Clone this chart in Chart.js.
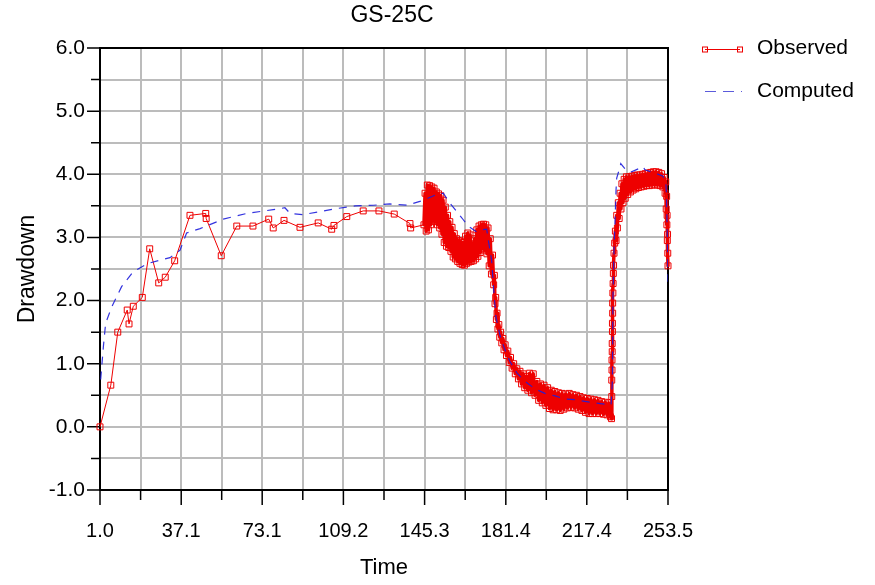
<!DOCTYPE html>
<html>
<head>
<meta charset="utf-8">
<title>GS-25C</title>
<script src="https://cdn.jsdelivr.net/npm/chart.js@4.4.1/dist/chart.umd.min.js"></script>
<style>
    html, body { margin: 0; padding: 0; background: #fff; overflow: hidden; }
</style>
</head>
<body>
<canvas id="chart" width="875" height="585"></canvas>
<script>
const FONT = '"Liberation Sans", Arial, sans-serif';
const GRID = '#bcbcbc';
const RED = '#ee0000';

const chartTitle = 'GS-25C';
const seriesNames = ['Observed', 'Computed'];

// axes
const xMajorTicks = [1.0, 37.1, 73.1, 109.2, 145.3, 181.4, 217.4, 253.5];
const xTickLabels = ['1.0', '37.1', '73.1', '109.2', '145.3', '181.4', '217.4', '253.5'];
const yMajorTicks = [-1, 0, 1, 2, 3, 4, 5, 6];
const yTickLabels = ['-1.0', '0.0', '1.0', '2.0', '3.0', '4.0', '5.0', '6.0'];

// observed drawdown [time, drawdown]
const observed = [
    [1.0, 0.00], [5.8, 0.66], [8.9, 1.50], [13.1, 1.85], [13.9, 1.63], [15.8, 1.91],
    [19.8, 2.05], [23.1, 2.82], [27.1, 2.28], [30.0, 2.37], [34.2, 2.63], [41.0, 3.35],
    [48.0, 3.38], [48.2, 3.30], [54.9, 2.71], [61.8, 3.18], [69.0, 3.18], [76.0, 3.29],
    [78.0, 3.15], [82.8, 3.27], [89.9, 3.16], [98.0, 3.23], [104.0, 3.13], [105.0, 3.19],
    [110.7, 3.33], [118.0, 3.42], [125.0, 3.42], [131.8, 3.37], [138.8, 3.22], [139.1, 3.15],
    // dense logger record
    [145.0, 3.20], [145.5, 3.70], [146.0, 3.10], [146.5, 3.83], [147.0, 3.12], [147.5, 3.82],
    [148.0, 3.20], [148.5, 3.80], [149.0, 3.26], [149.5, 3.78], [150.0, 3.25], [150.5, 3.72],
    [151.0, 3.20], [151.5, 3.69], [152.0, 3.15], [152.5, 3.66], [153.0, 3.05], [153.5, 3.59],
    [154.0, 2.92], [154.5, 3.48], [155.0, 2.86], [155.5, 3.35], [156.0, 2.84], [156.5, 3.25],
    [157.0, 2.78], [157.5, 3.16], [158.0, 2.69], [158.5, 3.06], [159.0, 2.66], [159.5, 2.98],
    [160.0, 2.62], [160.5, 2.95], [161.0, 2.59], [161.5, 2.93], [162.0, 2.57], [162.5, 2.92],
    [163.0, 2.56], [163.5, 3.02], [164.0, 2.59], [164.5, 3.07], [165.0, 2.61], [165.5, 3.04],
    [166.0, 2.62], [166.5, 2.90], [167.0, 2.63], [167.5, 2.98], [168.0, 2.66], [168.5, 3.12],
    [169.0, 2.70], [169.5, 3.18], [170.0, 2.76], [170.5, 3.20], [171.0, 2.82], [171.5, 3.21],
    [172.0, 2.80], [172.5, 3.20], [173.0, 2.74], [173.5, 3.15], [174.0, 2.55], [174.5, 2.98],
    [175.0, 2.42], [175.5, 2.72],
    [176.0, 2.25], [176.3, 2.40], [176.6, 1.95], [176.9, 2.05], [177.2, 1.70], [177.5, 1.80],
    [177.9, 1.55], [178.3, 1.62], [178.7, 1.42], [179.1, 1.50], [179.6, 1.33], [180.1, 1.40],
    [180.6, 1.22], [181.1, 1.30], [181.7, 1.13], [182.3, 1.20], [182.9, 1.02], [183.5, 1.10],
    [184.2, 0.93], [184.9, 1.00], [185.6, 0.84], [186.3, 0.92], [187.0, 0.76], [187.7, 0.88],
    [188.4, 0.68], [189.1, 0.84], [189.8, 0.62], [190.5, 0.80],
    [191.2, 0.58], [192.0, 0.85], [192.8, 0.54], [193.6, 0.84], [194.4, 0.50], [195.2, 0.72],
    [196.0, 0.42], [196.8, 0.68], [197.6, 0.38], [198.4, 0.66], [199.2, 0.34], [200.0, 0.62],
    [200.8, 0.29], [201.6, 0.58], [202.4, 0.27], [203.2, 0.56], [204.0, 0.27], [204.8, 0.54],
    [205.6, 0.26], [206.4, 0.53], [207.2, 0.28], [208.0, 0.52], [208.8, 0.30], [209.6, 0.53],
    [210.4, 0.31], [211.2, 0.51], [212.0, 0.30], [212.8, 0.50], [213.6, 0.28], [214.4, 0.48],
    [215.2, 0.26], [216.0, 0.46], [216.8, 0.23], [217.6, 0.45], [218.4, 0.21], [219.2, 0.44],
    [220.0, 0.21], [220.8, 0.43], [221.6, 0.21], [222.4, 0.42], [223.2, 0.21], [224.0, 0.40],
    [224.8, 0.20], [225.6, 0.39], [226.4, 0.19], [227.2, 0.38], [227.9, 0.16], [228.4, 0.13],
    // recovery
    [228.5, 0.48], [228.5, 0.74], [228.6, 0.90], [228.6, 1.06], [228.7, 1.19], [228.7, 1.32],
    [228.8, 1.51], [228.8, 1.64], [228.9, 1.80], [228.9, 1.96], [229.0, 2.12], [229.1, 2.27],
    [229.2, 2.43], [229.3, 2.56], [229.5, 2.75], [229.8, 2.91],
    [230.1, 3.10], [230.4, 2.95], [230.7, 3.35], [231.0, 3.15], [231.4, 3.55], [231.8, 3.30],
    [232.2, 3.70], [232.6, 3.45], [233.0, 3.85], [233.5, 3.55], [234.0, 3.92], [234.5, 3.62],
    [235.0, 3.96], [235.6, 3.68], [236.2, 3.96], [236.8, 3.72], [237.4, 3.97], [238.0, 3.75],
    [238.6, 3.98], [239.2, 3.77], [239.8, 3.99], [240.4, 3.79], [241.0, 3.99], [241.6, 3.80],
    [242.2, 4.00], [242.8, 3.81], [243.4, 4.01], [244.0, 3.82], [244.6, 4.02], [245.2, 3.82],
    [245.8, 4.03], [246.4, 3.83], [247.0, 4.04], [247.6, 3.83], [248.2, 4.04], [248.8, 3.83],
    [249.4, 4.03], [250.0, 3.82], [250.6, 4.01], [251.2, 3.80], [251.8, 3.95], [252.2, 3.70],
    [252.5, 3.88], [252.7, 3.45], [252.9, 3.65], [253.0, 3.20], [253.1, 3.35], [253.2, 2.95],
    [253.3, 3.05], [253.4, 2.75], [253.5, 2.55]
];

// computed drawdown [time, drawdown]
const computed = [
    [1.3, 0.75], [2.5, 1.27], [3.5, 1.64], [6.2, 1.90], [10.6, 2.22], [15.8, 2.46],
    [22.5, 2.59], [32.1, 2.68], [36.6, 2.80], [39.5, 3.07], [45.5, 3.14], [55.8, 3.29],
    [66.2, 3.38], [78.0, 3.44], [83.2, 3.47], [85.5, 3.38], [91.2, 3.36], [98.8, 3.41],
    [106.8, 3.46], [114.4, 3.50], [122.5, 3.51], [129.9, 3.53], [137.3, 3.51], [143.2, 3.57],
    [146.8, 3.62], [150.6, 3.68], [153.6, 3.70], [156.6, 3.54], [159.6, 3.41], [162.5, 3.28],
    [164.7, 3.18], [168.4, 3.09], [170.6, 3.12], [172.9, 3.13], [173.6, 2.96], [175.1, 2.64],
    [175.8, 2.27], [177.0, 1.74], [178.8, 1.45], [181.0, 1.22], [183.3, 1.03], [186.4, 0.85],
    [189.9, 0.72], [194.4, 0.60], [198.8, 0.53], [203.3, 0.49], [207.7, 0.44], [212.2, 0.43],
    [218.8, 0.39], [225.5, 0.36], [228.2, 0.35], [228.8, 0.74], [229.0, 2.00], [229.5, 2.80],
    [229.9, 3.20], [230.4, 3.75], [230.7, 3.94], [232.2, 4.12], [232.5, 4.17], [235.0, 4.06],
    [237.3, 4.04], [242.5, 4.12], [243.2, 4.07], [247.7, 4.02], [251.3, 3.97], [252.6, 3.83],
    [252.8, 3.70], [253.2, 3.00], [253.5, 2.30]
];

// début de l'enregistrement continu (trait plus épais)
const denseFrom = 145.0;

function withMidpoints(major) {
    const out = [];
    major.forEach((v, i) => {
        out.push(v);
        if (i < major.length - 1) out.push((v + major[i + 1]) / 2);
    });
    return out;
}

function toPoints(rows) {
    return rows.map(r => ({ x: r[0], y: r[1] }));
}

/**
 * Cadre noir + petites graduations hors de la zone de tracé
 */
const framePlugin = {
    id: 'frame',
    beforeDatasetsDraw(chart) {
        const { ctx, chartArea: a, scales: { x, y } } = chart;
        ctx.save();
        ctx.strokeStyle = '#000';
        ctx.lineWidth = 1.5;
        ctx.beginPath();
        x.ticks.forEach(t => {
            const px = x.getPixelForValue(t.value);
            const len = xMajorTicks.includes(t.value) ? 15 : 10;
            ctx.moveTo(px, a.bottom);
            ctx.lineTo(px, a.bottom + len);
        });
        y.ticks.forEach(t => {
            const py = y.getPixelForValue(t.value);
            const len = yMajorTicks.includes(t.value) ? 13 : 9;
            ctx.moveTo(a.left - len, py);
            ctx.lineTo(a.left, py);
        });
        ctx.stroke();
        ctx.lineWidth = 2;
        ctx.strokeRect(a.left, a.top, a.right - a.left, a.bottom - a.top);
        ctx.restore();
    }
};

/**
 * Titre et légende à droite
 */
const titleKeyPlugin = {
    id: 'titleKey',
    afterDraw(chart) {
        const ctx = chart.ctx;
        ctx.save();
        ctx.fillStyle = '#000';
        ctx.textBaseline = 'middle';
        ctx.textAlign = 'center';
        ctx.font = `23px ${FONT}`;
        ctx.fillText(chartTitle, 392, 16);

        ctx.textAlign = 'left';
        ctx.font = `21px ${FONT}`;
        ctx.fillText(seriesNames[0], 757, 48);
        ctx.fillText(seriesNames[1], 757, 91);

        // observed key
        ctx.strokeStyle = RED;
        ctx.lineWidth = 1;
        ctx.beginPath();
        ctx.moveTo(705, 49.5);
        ctx.lineTo(740, 49.5);
        ctx.stroke();
        ctx.strokeRect(702.5, 47, 5, 5);
        ctx.strokeRect(737.5, 47, 5, 5);

        // computed key
        ctx.strokeStyle = 'rgba(50, 50, 210, 0.8)';
        ctx.setLineDash([11, 7]);
        ctx.beginPath();
        ctx.moveTo(705, 91.5);
        ctx.lineTo(742, 91.5);
        ctx.stroke();
        ctx.restore();
    }
};

Chart.defaults.font.family = FONT;
Chart.defaults.color = '#000';

new Chart(document.getElementById('chart'), {
    type: 'line',
    data: {
        datasets: [
            {
                label: seriesNames[1],
                data: toPoints(computed),
                order: 0,
                borderColor: 'rgba(30, 30, 220, 0.9)',
                borderWidth: 1.2,
                borderDash: [8, 7],
                pointRadius: 0,
                tension: 0
            },
            {
                label: seriesNames[0],
                data: toPoints(observed),
                order: 1,
                borderColor: RED,
                borderWidth: 1,
                borderJoinStyle: 'round',
                borderCapStyle: 'round',
                segment: {
                    borderWidth: c => (c.p0.parsed.x >= denseFrom ? 3.5 : 1)
                },
                pointStyle: 'rect',
                pointRadius: 4.2,
                pointBorderWidth: 1,
                pointBorderColor: RED,
                pointBackgroundColor: 'rgba(0,0,0,0)',
                tension: 0,
                clip: false
            }
        ]
    },
    options: {
        responsive: false,
        animation: false,
        events: [],
        devicePixelRatio: 1,
        layout: { padding: { top: 48, right: 207, left: 0, bottom: 0 } },
        plugins: {
            legend: { display: false },
            title: { display: false },
            tooltip: { enabled: false }
        },
        scales: {
            x: {
                type: 'linear',
                min: 1.0,
                max: 253.5,
                afterBuildTicks: s => { s.ticks = withMidpoints(xMajorTicks).map(v => ({ value: v })); },
                afterFit: s => { s.height = 95; },
                grid: { color: GRID, lineWidth: 2, drawTicks: false },
                border: { display: false },
                ticks: {
                    autoSkip: false,
                    maxRotation: 0,
                    padding: 29,
                    font: { size: 20 },
                    callback: v => {
                        const i = xMajorTicks.indexOf(v);
                        return i < 0 ? '' : xTickLabels[i];
                    }
                },
                title: { display: true, text: 'Time', font: { size: 22 }, padding: { top: 0, bottom: 4 } }
            },
            y: {
                type: 'linear',
                min: -1,
                max: 6,
                afterBuildTicks: s => { s.ticks = withMidpoints(yMajorTicks).map(v => ({ value: v })); },
                afterFit: s => { s.width = 100; },
                grid: { color: GRID, lineWidth: 2, drawTicks: false },
                border: { display: false },
                ticks: {
                    padding: 15,
                    font: { size: 21 },
                    callback: v => {
                        const i = yMajorTicks.indexOf(v);
                        return i < 0 ? '' : yTickLabels[i];
                    }
                },
                title: { display: true, text: 'Drawdown', font: { size: 23 }, padding: { top: 14, bottom: 0 } }
            }
        }
    },
    plugins: [framePlugin, titleKeyPlugin]
});
</script>
</body>
</html>
